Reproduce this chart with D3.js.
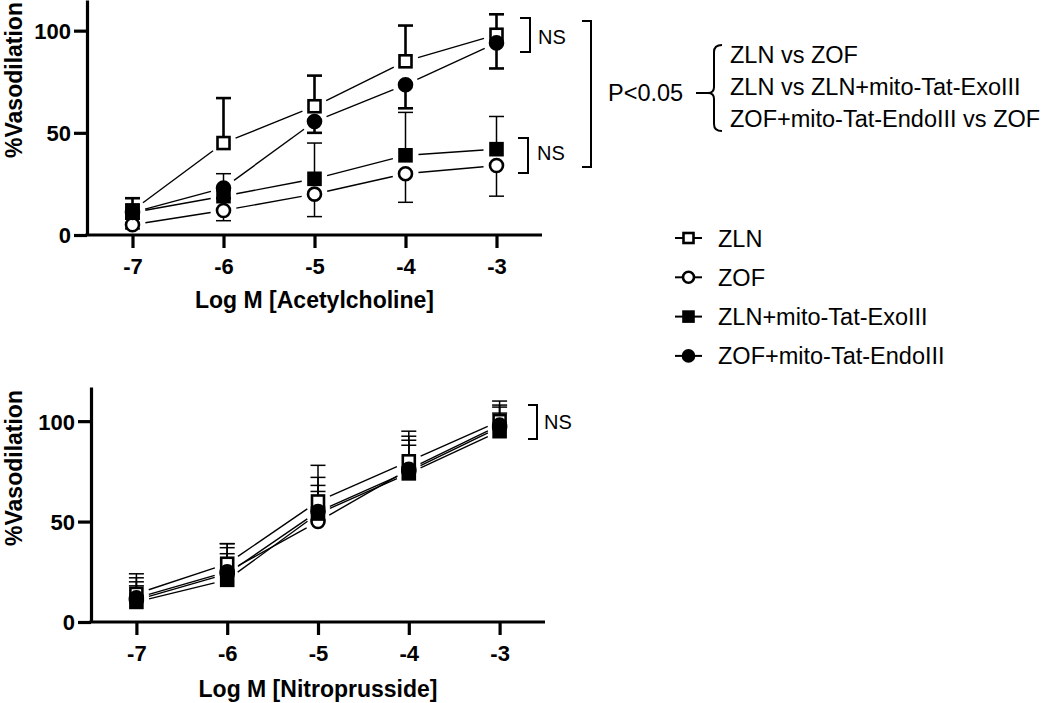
<!DOCTYPE html>
<html>
<head>
<meta charset="utf-8">
<script src="https://cdn.jsdelivr.net/npm/d3@7"></script>
<style>
  html, body { margin: 0; padding: 0; background: #fff; }
  svg { display: block; font-family: "Liberation Sans", Arial, Helvetica, sans-serif; }
</style>
</head>
<body>
<svg id="chart" width="1050" height="703"></svg>
<script>
// ---------- DATA ----------
const doses = [-7, -6, -5, -4, -3];
const xTicks = [-7, -6, -5, -4, -3];
const xTickLabels = ["-7", "-6", "-5", "-4", "-3"];
const yTicks = [0, 50, 100];
const seriesNames = ["ZLN", "ZOF", "ZLN+mito-Tat-ExoIII", "ZOF+mito-Tat-EndoIII"];
const seriesSymbols = ["openSquare", "openCircle", "filledSquare", "filledCircle"];

// Acetylcholine (top panel): means and SEM
const achZLN  = [12, 45, 63, 85, 98];
const achZOF  = [5, 12, 20, 30, 34];
const achExo  = [11, 19, 27.5, 39, 42];
const achEndo = [11, 23, 55.5, 73.5, 94];
const achZLNerr  = [6, 22, 15, 17.5, 10];
const achZOFerr  = [2, 5, 11, 14, 15];
const achExoerr  = [4, 11, 17.5, 21, 16];
const achEndoerr = [3, 5, 5.5, 11.5, 12.5];
const achErrDir = [1, -1, 1, -1]; // error bar drawn up (+1) or down (-1)

// Nitroprusside (bottom panel)
const snpZLN  = [14, 29, 60, 80, 100];
const snpZOF  = [12, 25, 50, 76, 98];
const snpExo  = [10, 21, 54, 74, 95];
const snpEndo = [11, 24, 55, 75, 97];
const snpZLNerr  = [10, 10, 18, 15, 10];
const snpZOFerr  = [10, 14, 22, 16.5, 10];
const snpExoerr  = [8, 13, 11, 14, 9];
const snpEndoerr = [9, 13, 13, 15.5, 10];
const snpErrDir = [1, 1, 1, 1];

const pLabel = "P<0.05";
const comparisons = ["ZLN vs ZOF", "ZLN vs ZLN+mito-Tat-ExoIII", "ZOF+mito-Tat-EndoIII vs ZOF"];

// ---------- DRAW ----------
const svg = d3.select("#chart");

function drawMarker(g, type, x, y, size) {
  const s = size;
  if (type === "openSquare" || type === "filledSquare") {
    g.append("rect").attr("x", x - s / 2).attr("y", y - s / 2).attr("width", s).attr("height", s)
      .attr("fill", type === "openSquare" ? "#fff" : "#000")
      .attr("stroke", "#000").attr("stroke-width", 2.6);
  } else {
    g.append("circle").attr("cx", x).attr("cy", y).attr("r", s / 2 + 0.5)
      .attr("fill", type === "openCircle" ? "#fff" : "#000")
      .attr("stroke", "#000").attr("stroke-width", 2.6);
  }
}

function panel(opts) {
  const x = d3.scaleLinear().domain([-7.5, -2.5]).range([opts.left, opts.right]);
  const y = d3.scaleLinear().domain([0, opts.ymax]).range([opts.bottom, opts.top]);
  const g = svg.append("g");

  // axes
  const xAxis = g.append("g").attr("transform", `translate(0,${opts.bottom})`)
    .call(d3.axisBottom(x).tickValues(xTicks).tickSize(13).tickSizeOuter(0)
      .tickFormat((d, i) => xTickLabels[i]).tickPadding(10));
  const yAxis = g.append("g").attr("transform", `translate(${opts.left},0)`)
    .call(d3.axisLeft(y).tickValues(yTicks).tickSize(13).tickSizeOuter(0).tickPadding(3));
  [xAxis, yAxis].forEach(a => {
    a.select(".domain").attr("stroke", "#000").attr("stroke-width", 3.2);
    a.selectAll(".tick line").attr("stroke", "#000").attr("stroke-width", 3.2);
    a.selectAll(".tick text").attr("fill", "#000").attr("font-size", 22).attr("font-weight", "bold")
      .attr("font-family", "'Liberation Sans', Arial, sans-serif");
  });
  xAxis.selectAll(".tick text").attr("dy", "0.71em");
  yAxis.selectAll(".tick text").attr("dy", "0.36em");
  xAxis.select(".domain").attr("d", `M${opts.left - 1.6},0H${opts.right}`);

  // axis titles
  g.append("text").attr("x", (opts.left + opts.right) / 2).attr("y", opts.xTitleY)
    .attr("text-anchor", "middle").attr("font-size", 23).attr("font-weight", "bold").text(opts.xTitle);
  g.append("text").attr("transform", `translate(22,${opts.yTitleCenter}) rotate(-90)`)
    .attr("text-anchor", "middle").attr("font-size", 23).attr("font-weight", "bold").text("%Vasodilation");

  const gap = 13;
  // connecting lines (with gaps near markers)
  opts.series.forEach((s, si) => {
    for (let i = 0; i < doses.length - 1; i++) {
      const x1 = x(doses[i]), y1 = y(s.mean[i]), x2 = x(doses[i + 1]), y2 = y(s.mean[i + 1]);
      const L = Math.hypot(x2 - x1, y2 - y1), ux = (x2 - x1) / L, uy = (y2 - y1) / L;
      g.append("line").attr("x1", x1 + ux * gap).attr("y1", y1 + uy * gap)
        .attr("x2", x2 - ux * gap).attr("y2", y2 - uy * gap)
        .attr("stroke", "#000").attr("stroke-width", 1.4);
    }
  });
  // error bars
  opts.series.forEach((s, si) => {
    doses.forEach((d, i) => {
      const cx = x(d), cy = y(s.mean[i]);
      const ey = y(s.mean[i] + s.dir * s.err[i]);
      const w = s.thick ? 2.6 : 1.5;
      g.append("line").attr("x1", cx).attr("x2", cx).attr("y1", cy).attr("y2", ey)
        .attr("stroke", "#000").attr("stroke-width", w);
      g.append("line").attr("x1", cx - 7.5).attr("x2", cx + 7.5).attr("y1", ey).attr("y2", ey)
        .attr("stroke", "#000").attr("stroke-width", w);
    });
  });
  // markers
  opts.series.forEach((s, si) => {
    doses.forEach((d, i) => drawMarker(g, seriesSymbols[si], x(d), y(s.mean[i]), 12));
  });
  return { x, y, g };
}

const topPanel = panel({
  left: 87, right: 542, top: 0, bottom: 235, ymax: 115,
  xTitle: "Log M [Acetylcholine]", xTitleY: 308, yTitleCenter: 80,
  series: [
    { mean: achZLN, err: achZLNerr, dir: achErrDir[0], thick: true },
    { mean: achZOF, err: achZOFerr, dir: achErrDir[1], thick: false },
    { mean: achExo, err: achExoerr, dir: achErrDir[2], thick: false },
    { mean: achEndo, err: achEndoerr, dir: achErrDir[3], thick: true }
  ]
});

const bottomPanel = panel({
  left: 91, right: 545, top: 387, bottom: 622, ymax: 117,
  xTitle: "Log M [Nitroprusside]", xTitleY: 697, yTitleCenter: 468,
  series: [
    { mean: snpZLN, err: snpZLNerr, dir: snpErrDir[0], thick: false },
    { mean: snpZOF, err: snpZOFerr, dir: snpErrDir[1], thick: false },
    { mean: snpExo, err: snpExoerr, dir: snpErrDir[2], thick: false },
    { mean: snpEndo, err: snpEndoerr, dir: snpErrDir[3], thick: false }
  ]
});

// ---------- ANNOTATIONS ----------
const ann = svg.append("g").attr("fill", "none").attr("stroke", "#000").attr("stroke-width", 2);
function bracket(xl, xr, y1, y2) {
  ann.append("path").attr("d", `M${xl},${y1}H${xr}V${y2}H${xl}`);
}
bracket(520, 530, 18, 52);
bracket(518, 528, 138, 173);
bracket(582, 591, 21, 167);
bracket(528, 537, 405, 439);

const txt = svg.append("g").attr("fill", "#000");
txt.append("text").attr("x", 538).attr("y", 44).attr("font-size", 20).text("NS");
txt.append("text").attr("x", 537).attr("y", 160).attr("font-size", 20).text("NS");
txt.append("text").attr("x", 544).attr("y", 429).attr("font-size", 20).text("NS");

txt.append("text").attr("x", 608).attr("y", 101).attr("font-size", 23.5).text(pLabel);
ann.append("path").attr("d", "M696,93H708Q714,93 714,87V52Q714,45 722,45");
ann.append("path").attr("d", "M708,93Q714,93 714,99V124Q714,131 722,131");
comparisons.forEach((c, i) => {
  txt.append("text").attr("x", 730).attr("y", 63 + i * 32).attr("font-size", 23.5).text(c);
});

// ---------- LEGEND ----------
const leg = svg.append("g");
seriesNames.forEach((n, i) => {
  const cy = 238 + i * 39.3;
  leg.append("line").attr("x1", 675).attr("x2", 702).attr("y1", cy).attr("y2", cy)
    .attr("stroke", "#000").attr("stroke-width", 2);
  drawMarker(leg, seriesSymbols[i], 688.5, cy, 10);
  leg.append("text").attr("x", 718).attr("y", cy + 8.5).attr("font-size", 23.5).text(n);
});
</script>
</body>
</html>
